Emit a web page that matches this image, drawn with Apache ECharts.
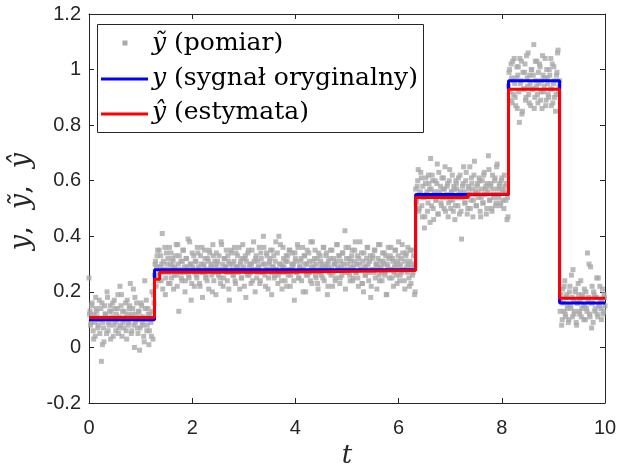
<!DOCTYPE html>
<html>
<head>
<meta charset="utf-8">
<script src="https://cdn.jsdelivr.net/npm/echarts@6/dist/echarts.min.js"></script>
<style>html,body{margin:0;padding:0;background:#fff}#c{width:617px;height:468px}</style>
</head>
<body>
<div id="c"></div>
<script>
// sampling: even samples at t = 0, 0.02, ...; odd samples at t = 0.01, 0.03, ...
const tStep = 0.02;
const tOffsetOdd = 0.01;
const measuredEven = [
  // segment 1 (t 0 .. 1.26)
  0.25, 0.13, 0.09, 0.16, 0.06, 0.12, 0.04, 0.14, 0.11, 0.08,
  0.17, 0.10, -0.05, 0.01, 0.07, 0.15, 0.12, 0.05, 0.18, 0.09,
  0.13, 0.03, 0.11, 0.16, 0.08, 0.14, 0.06, 0.10, 0.19, 0.07,
  0.22, 0.15, 0.04, 0.09, 0.13, 0.11, 0.06, 0.17, 0.08, 0.14,
  0.23, 0.05, 0.12, 0.21, 0.00, 0.09, 0.16, 0.07, 0.13, -0.01,
  0.11, 0.15, 0.08, 0.04, 0.24, 0.10, 0.06, 0.14, 0.01, 0.12,
  0.09, 0.20, 0.03, 0.16,
  // segment 2 (t 1.28 .. 6.32)
  0.30, 0.22, 0.33, 0.26, 0.35, 0.29, 0.24, 0.41, 0.31, 0.27,
  0.19, 0.34, 0.28, 0.23, 0.36, 0.30, 0.25, 0.32, 0.21, 0.29,
  0.33, 0.26, 0.37, 0.13, 0.28, 0.31, 0.24, 0.35, 0.27, 0.20,
  0.32, 0.29, 0.39, 0.25, 0.30, 0.17, 0.34, 0.28, 0.22, 0.31,
  0.26, 0.36, 0.29, 0.23, 0.33, 0.27, 0.18, 0.30, 0.35, 0.25,
  0.28, 0.32, 0.21, 0.34, 0.29, 0.26, 0.37, 0.24, 0.31, 0.19,
  0.30, 0.27, 0.33, 0.25, 0.38, 0.28, 0.22, 0.32, 0.29, 0.35,
  0.24, 0.31, 0.17, 0.27, 0.34, 0.30, 0.26, 0.36, 0.23, 0.29,
  0.33, 0.28, 0.21, 0.31, 0.25, 0.37, 0.29, 0.32, 0.18, 0.27,
  0.34, 0.26, 0.30, 0.23, 0.35, 0.28, 0.31, 0.20, 0.33, 0.27,
  0.29, 0.36, 0.24, 0.32, 0.27, 0.40, 0.30, 0.22, 0.34, 0.28,
  0.25, 0.31, 0.35, 0.19, 0.29, 0.33, 0.26, 0.38, 0.28, 0.23,
  0.40, 0.27, 0.30, 0.21, 0.36, 0.29, 0.24, 0.33, 0.31, 0.26,
  0.35, 0.22, 0.28, 0.34, 0.30, 0.17, 0.32, 0.27, 0.37, 0.25,
  0.29, 0.31, 0.24, 0.36, 0.28, 0.33, 0.20, 0.30, 0.26, 0.34,
  0.27, 0.38, 0.23, 0.31, 0.29, 0.35, 0.25, 0.32, 0.21, 0.28,
  0.33, 0.26, 0.30, 0.36, 0.24, 0.29, 0.34, 0.19, 0.31, 0.27,
  0.35, 0.28, 0.22, 0.32, 0.30, 0.25, 0.37, 0.29, 0.33, 0.23,
  0.31, 0.26, 0.34, 0.28, 0.42, 0.36, 0.30, 0.27, 0.32, 0.24,
  0.29, 0.35, 0.25, 0.31, 0.38, 0.27, 0.33, 0.22, 0.30, 0.28,
  0.34, 0.23, 0.20, 0.29, 0.26, 0.32, 0.36, 0.24, 0.31, 0.18,
  0.28, 0.33, 0.27, 0.35, 0.30, 0.21, 0.32, 0.26, 0.37, 0.29,
  0.24, 0.31, 0.34, 0.27, 0.19, 0.30, 0.36, 0.25, 0.33, 0.28,
  0.32, 0.22, 0.29, 0.35, 0.26, 0.31, 0.38, 0.24, 0.30, 0.27,
  0.34, 0.28, 0.21, 0.33, 0.29, 0.36, 0.25, 0.31, 0.23, 0.35,
  0.27, 0.30, 0.20,
  // segment 3 (t 6.34 .. 8.12)
  0.52, 0.58, 0.64, 0.50, 0.56, 0.61, 0.47, 0.54, 0.43, 0.59,
  0.55, 0.49, 0.62, 0.57, 0.68, 0.51, 0.60, 0.46, 0.56, 0.53,
  0.59, 0.48, 0.63, 0.55, 0.52, 0.61, 0.57, 0.50, 0.65, 0.54,
  0.58, 0.47, 0.60, 0.53, 0.56, 0.62, 0.49, 0.57, 0.51, 0.59,
  0.54, 0.61, 0.48, 0.56, 0.39, 0.58, 0.65, 0.52, 0.60, 0.55,
  0.50, 0.57, 0.65, 0.53, 0.59, 0.47, 0.62, 0.55, 0.51, 0.58,
  0.56, 0.61, 0.49, 0.54, 0.60, 0.52, 0.63, 0.57, 0.48, 0.59,
  0.69, 0.53, 0.58, 0.50, 0.62, 0.55, 0.60, 0.51, 0.65, 0.57,
  0.54, 0.59, 0.52, 0.61, 0.56, 0.50, 0.58, 0.53, 0.46, 0.47,
  // segment 4 (t 8.14 .. 9.12)
  0.99, 0.92, 1.02, 0.88, 0.96, 1.04, 0.90, 0.97, 0.86, 1.01,
  0.81, 0.95, 1.03, 0.85, 0.93, 0.99, 0.89, 1.05, 0.94, 0.91,
  0.98, 0.87, 1.00, 0.93, 1.09, 0.90, 0.96, 1.03, 0.88, 0.95,
  1.01, 0.92, 0.86, 0.98, 0.94, 1.04, 0.89, 0.97, 0.91, 1.00,
  0.93, 0.87, 1.02, 0.95, 0.90, 0.85, 0.98, 1.06, 0.92, 0.96,
  // segment 5 (t 9.14 .. 10)
  0.17, 0.08, 0.21, 0.13, 0.24, 0.11, 0.19, 0.15, 0.10, 0.22,
  0.14, 0.18, 0.28, 0.12, 0.20, 0.09, 0.16, 0.23, 0.13, 0.17,
  0.11, 0.19, 0.15, 0.21, 0.10, 0.14, 0.34, 0.18, 0.12, 0.29,
  0.07, 0.16, 0.20, 0.13, 0.18, 0.25, 0.11, 0.15, 0.22, 0.14,
  0.17, 0.12, 0.19, 0.15
];
// measured samples, odd time indices (t = 0.01 .. 9.99)
const measuredOdd = [
  // segment 1 (t 0.01 .. 1.25)
  0.12, 0.08, 0.15, 0.11, 0.03, 0.09, 0.18, 0.13, 0.07, 0.10,
  0.05, 0.14, 0.16, 0.09, 0.02, 0.12, 0.11, 0.20, 0.06, 0.08,
  0.15, 0.13, 0.10, 0.04, 0.17, 0.09, 0.12, 0.14, 0.05, 0.11,
  0.08, 0.19, 0.13, 0.07, 0.10, 0.16, 0.03, 0.12, 0.09, 0.15,
  0.11, 0.06, 0.14, 0.08, 0.18, 0.12, 0.10, 0.05, 0.13, 0.07,
  0.16, 0.09, 0.11, 0.02, 0.14, 0.17, 0.08, 0.12, 0.06, 0.10,
  0.04, 0.13, 0.19,
  // segment 2 (t 1.27 .. 6.31)
  0.26, 0.31, 0.29, 0.35, 0.24, 0.27, 0.33, 0.30, 0.21, 0.28,
  0.36, 0.25, 0.30, 0.32, 0.27, 0.23, 0.34, 0.29, 0.31, 0.26,
  0.28, 0.37, 0.22, 0.30, 0.33, 0.27, 0.25, 0.31, 0.35, 0.29,
  0.24, 0.32, 0.28, 0.26, 0.38, 0.30, 0.23, 0.29, 0.33, 0.27,
  0.31, 0.25, 0.34, 0.28, 0.22, 0.30, 0.36, 0.27, 0.29, 0.32,
  0.26, 0.24, 0.31, 0.35, 0.28, 0.30, 0.20, 0.33, 0.27, 0.29,
  0.34, 0.31, 0.26, 0.28, 0.23, 0.37, 0.30, 0.25, 0.32, 0.29,
  0.27, 0.33, 0.21, 0.30, 0.35, 0.28, 0.26, 0.31, 0.24, 0.34,
  0.29, 0.27, 0.36, 0.30, 0.25, 0.32, 0.28, 0.22, 0.33, 0.31,
  0.26, 0.35, 0.29, 0.27, 0.30, 0.24, 0.38, 0.28, 0.32, 0.25,
  0.31, 0.29, 0.23, 0.34, 0.27, 0.30, 0.36, 0.26, 0.28, 0.33,
  0.21, 0.30, 0.32, 0.27, 0.35, 0.29, 0.25, 0.31, 0.28, 0.34,
  0.26, 0.30, 0.37, 0.24, 0.29, 0.32, 0.27, 0.31, 0.22, 0.33,
  0.28, 0.35, 0.26, 0.30, 0.29, 0.24, 0.34, 0.31, 0.27, 0.36,
  0.25, 0.29, 0.32, 0.28, 0.20, 0.33, 0.30, 0.26, 0.35, 0.27,
  0.31, 0.24, 0.29, 0.38, 0.28, 0.32, 0.26, 0.30, 0.23, 0.34,
  0.27, 0.31, 0.29, 0.25, 0.36, 0.28, 0.33, 0.30, 0.22, 0.29,
  0.32, 0.26, 0.35, 0.27, 0.30, 0.24, 0.31, 0.37, 0.28, 0.33,
  0.25, 0.29, 0.34, 0.30, 0.27, 0.21, 0.32, 0.28, 0.36, 0.26,
  0.31, 0.33, 0.24, 0.29, 0.35, 0.27, 0.30, 0.25, 0.32, 0.38,
  0.28, 0.23, 0.31, 0.34, 0.26, 0.29, 0.36, 0.30, 0.27, 0.33,
  0.22, 0.32, 0.28, 0.35, 0.25, 0.30, 0.29, 0.37, 0.24, 0.31,
  0.27, 0.34, 0.30, 0.26, 0.33, 0.19, 0.29, 0.32, 0.28, 0.36,
  0.25, 0.31, 0.27, 0.35, 0.30, 0.23, 0.33, 0.29, 0.26, 0.32,
  0.37, 0.28, 0.24, 0.31, 0.34, 0.27, 0.30, 0.22, 0.35, 0.29,
  0.26, 0.33, 0.19,
  // segment 3 (t 6.33 .. 8.11)
  0.57, 0.53, 0.60, 0.49, 0.55, 0.63, 0.51, 0.58, 0.54, 0.47,
  0.61, 0.56, 0.52, 0.59, 0.45, 0.57, 0.62, 0.50, 0.55, 0.60,
  0.53, 0.66, 0.48, 0.56, 0.58, 0.51, 0.54, 0.61, 0.57, 0.49,
  0.55, 0.59, 0.52, 0.64, 0.50, 0.56, 0.53, 0.58, 0.46, 0.60,
  0.57, 0.51, 0.55, 0.62, 0.49, 0.54, 0.59, 0.56, 0.52, 0.63,
  0.48, 0.58, 0.55, 0.50, 0.61, 0.57, 0.53, 0.67, 0.56, 0.51,
  0.59, 0.54, 0.60, 0.47, 0.57, 0.52, 0.62, 0.55, 0.58, 0.50,
  0.56, 0.64, 0.53, 0.59, 0.49, 0.57, 0.54, 0.61, 0.52, 0.66,
  0.55, 0.58, 0.51, 0.60, 0.57, 0.53, 0.62, 0.56, 0.59, 0.54,
  // segment 4 (t 8.13 .. 9.11)
  0.94, 1.00, 0.89, 0.97, 1.03, 0.91, 0.95, 0.87, 1.01, 0.98,
  0.92, 1.04, 0.96, 0.84, 0.99, 0.93, 1.02, 0.90, 0.97, 1.06,
  0.88, 0.95, 1.00, 0.93, 0.98, 0.86, 1.03, 0.94, 0.91, 0.99,
  1.02, 0.89, 0.96, 1.05, 0.92, 0.97, 0.87, 1.00, 0.95, 0.90,
  0.98, 1.04, 0.93, 0.88, 1.01, 0.96, 0.91, 0.99, 1.07, 0.94,
  // segment 5 (t 9.13 .. 9.99)
  0.13, 0.19, 0.10, 0.16, 0.22, 0.12, 0.18, 0.14, 0.09, 0.20,
  0.15, 0.26, 0.11, 0.17, 0.13, 0.21, 0.08, 0.16, 0.19, 0.12,
  0.24, 0.14, 0.18, 0.10, 0.15, 0.20, 0.13, 0.17, 0.30, 0.11,
  0.16, 0.22, 0.09, 0.19, 0.14, 0.18, 0.12, 0.25, 0.15, 0.17,
  0.10, 0.21, 0.13, 0.18
];
// original signal (piecewise constant): change times and levels
const signalT = [0, 1.27, 6.33, 8.13, 9.12, 10];
const signalY = [0.10, 0.28, 0.55, 0.96, 0.16, 0.16];
// estimate (piecewise constant)
const estimateT = [0, 1.27, 1.37, 3.7, 6.33, 7.35, 8.13, 9.12, 10];
const estimateY = [0.108, 0.245, 0.271, 0.277, 0.54, 0.551, 0.929, 0.177, 0.177];
// axes
const xMin = 0, xMax = 10, xStep = 2;
const yMin = -0.2, yMax = 1.2, yStep = 0.2;

const scatterData = measuredEven.map((v, i) => [+(i * tStep).toFixed(2), v])
  .concat(measuredOdd.map((v, i) => [+(tOffsetOdd + i * tStep).toFixed(2), v]));
const signalData = signalT.map((t, i) => [t, signalY[i]]);
const estimateData = estimateT.map((t, i) => [t, estimateY[i]]);

const AX = '#262626';
const serif = 'DejaVu Serif';
const sans = 'Liberation Sans';
const LF = 25;

const chart = echarts.init(document.getElementById('c'), null, {renderer: 'canvas'});
const baseAxis = {
  axisLine: {show: true, onZero: false, lineStyle: {color: AX, width: 1}},
  axisTick: {show: true, inside: true, length: 5, lineStyle: {color: AX}},
  splitLine: {show: false}
};
chart.setOption({
  animation: false,
  backgroundColor: '#fff',
  grid: {left: 89, right: 12, top: 14, bottom: 65, containLabel: false, outerBoundsMode: 'none'},
  xAxis: [
    Object.assign({}, baseAxis, {
      type: 'value', min: xMin, max: xMax, interval: xStep, position: 'bottom',
      axisLabel: {fontSize: 20, color: AX, fontFamily: sans, margin: 15},
      name: 't', nameLocation: 'middle', nameGap: 31,
      nameTextStyle: {fontFamily: serif, fontStyle: 'italic', fontSize: 26, color: AX}
    }),
    Object.assign({}, baseAxis, {
      type: 'value', min: xMin, max: xMax, interval: xStep, position: 'top',
      axisLabel: {show: false}
    })
  ],
  yAxis: [
    Object.assign({}, baseAxis, {
      type: 'value', min: yMin, max: yMax, interval: yStep, position: 'left',
      axisLabel: {fontSize: 20, color: AX, fontFamily: sans, margin: 8,
        formatter: v => String(+v.toFixed(1))},
      name: '{i|y},  {i|ỹ},  {i|ŷ}', nameLocation: 'middle', nameGap: 46, nameRotate: 90,
      nameTextStyle: {fontFamily: serif, fontSize: 27, color: AX, padding: [0, 0, 0, 14],
        rich: {i: {fontFamily: serif, fontStyle: 'italic', fontSize: 27, color: AX}}}
    }),
    Object.assign({}, baseAxis, {
      type: 'value', min: yMin, max: yMax, interval: yStep, position: 'right',
      axisLabel: {show: false}
    })
  ],
  series: [
    {type: 'scatter', name: 'pomiar', data: scatterData, symbol: 'rect', symbolSize: 5,
      itemStyle: {color: '#a9a9a9'}, z: 2, large: false},
    {type: 'line', name: 'sygnal', data: signalData, step: 'end', symbol: 'none',
      lineStyle: {color: '#0000ff', width: 3}, z: 3},
    {type: 'line', name: 'estymata', data: estimateData, step: 'end', symbol: 'none',
      lineStyle: {color: '#ff0000', width: 3}, z: 4}
  ],
  graphic: [
    {type: 'rect', z: 100, shape: {x: 97.5, y: 24.5, width: 326, height: 108},
      style: {fill: '#fff', stroke: AX, lineWidth: 1}},
    {type: 'rect', z: 101, shape: {x: 122.5, y: 40.5, width: 5, height: 5},
      style: {fill: '#a9a9a9'}},
    {type: 'line', z: 101, shape: {x1: 101, y1: 79, x2: 148, y2: 79},
      style: {stroke: '#0000ff', lineWidth: 3}},
    {type: 'line', z: 101, shape: {x1: 101, y1: 114, x2: 148, y2: 114},
      style: {stroke: '#ff0000', lineWidth: 3}},
    {type: 'text', z: 101, x: 152, y: 43,
      style: {text: '{i|ỹ} (pomiar)', fill: '#000', font: LF + 'px "DejaVu Serif"', verticalAlign: 'middle',
        rich: {i: {fontFamily: serif, fontStyle: 'italic', fontSize: LF}}}},
    {type: 'text', z: 101, x: 152, y: 78,
      style: {text: '{i|y} (sygnał oryginalny)', fill: '#000', font: LF + 'px "DejaVu Serif"', verticalAlign: 'middle',
        rich: {i: {fontFamily: serif, fontStyle: 'italic', fontSize: LF}}}},
    {type: 'text', z: 101, x: 152, y: 112,
      style: {text: '{i|ŷ} (estymata)', fill: '#000', font: LF + 'px "DejaVu Serif"', verticalAlign: 'middle',
        rich: {i: {fontFamily: serif, fontStyle: 'italic', fontSize: LF}}}}
  ]
});
</script>
</body>
</html>
